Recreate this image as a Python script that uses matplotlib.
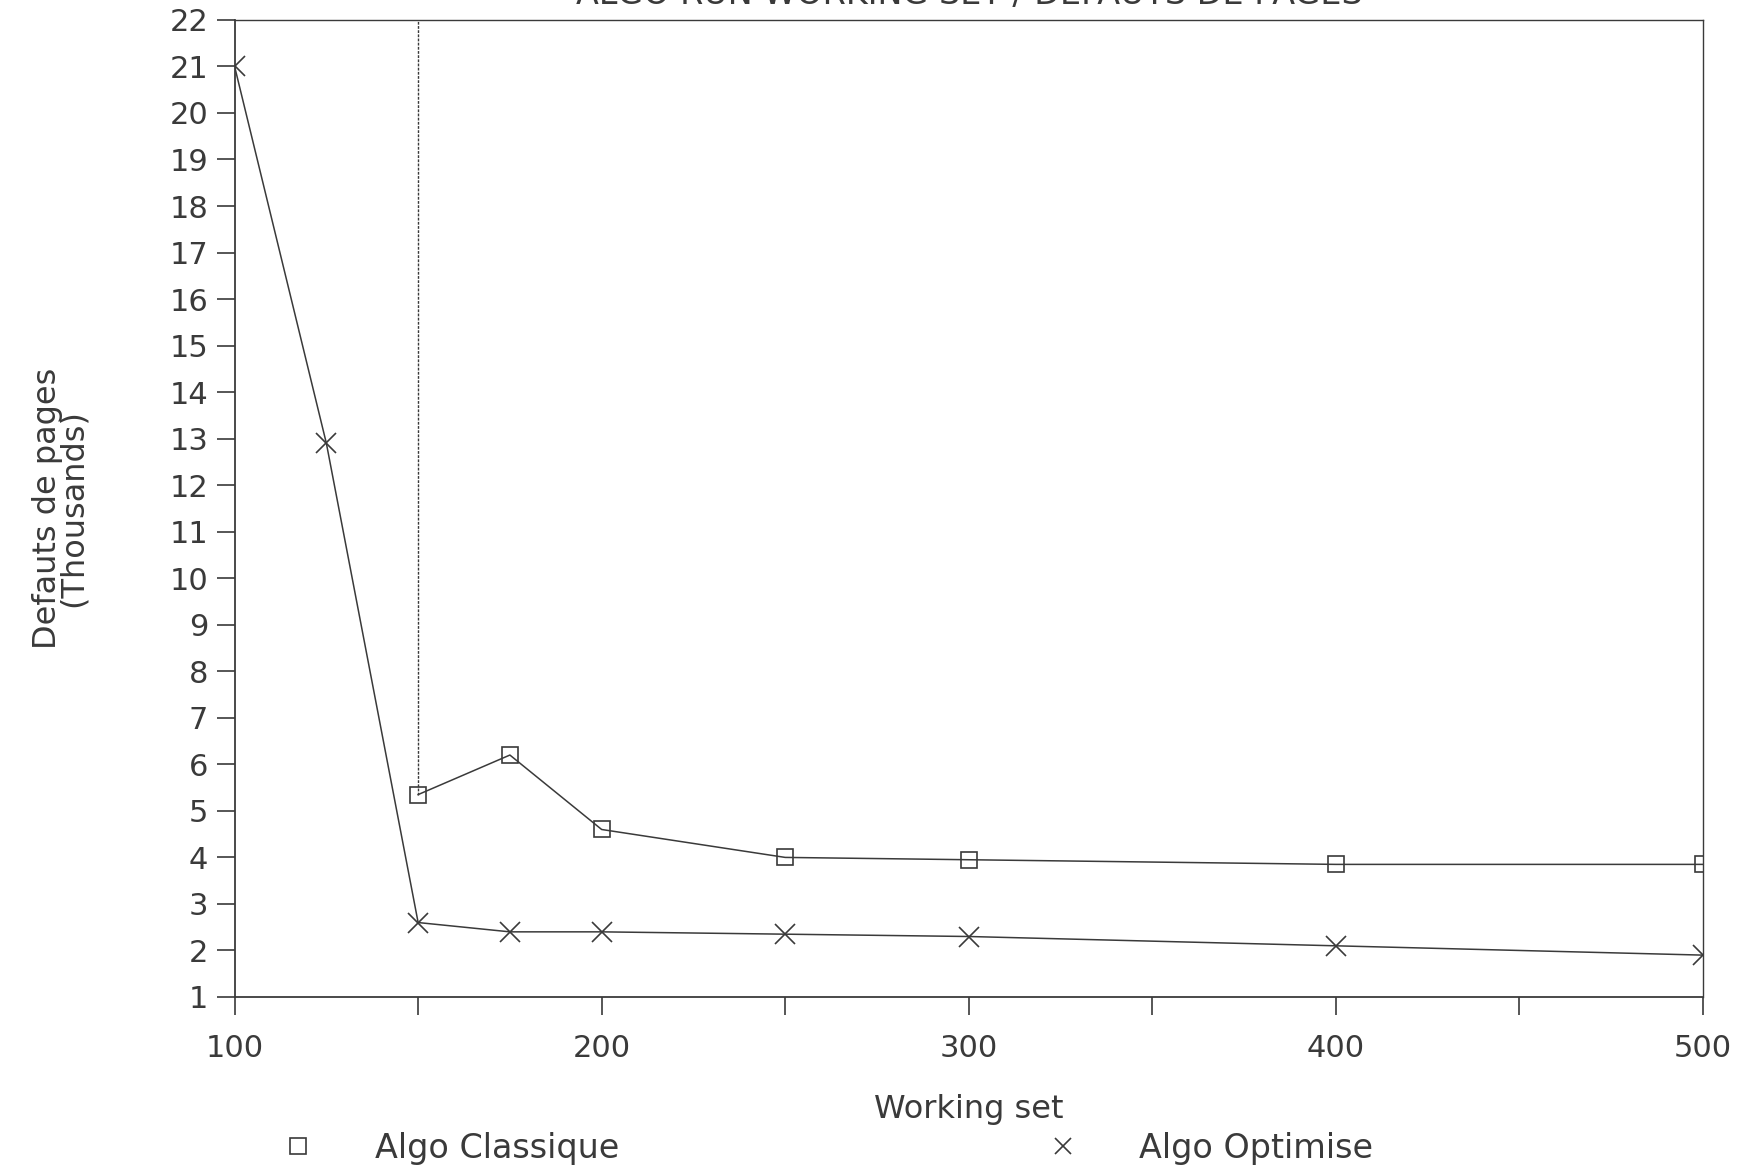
import matplotlib
matplotlib.use("Agg")
import matplotlib.pyplot as plt
from matplotlib.lines import Line2D

# working set sizes
working_set = [100, 125, 150, 175, 200, 250, 300, 400, 500]
# page faults (thousands), classic algorithm: first two values are off the scale
classique = [None, None, 5.35, 6.2, 4.6, 4.0, 3.95, 3.85, 3.85]
# page faults (thousands), optimised algorithm
optimise = [21.0, 12.9, 2.6, 2.4, 2.4, 2.35, 2.3, 2.1, 1.9]

x_ticks = [100, 150, 200, 250, 300, 350, 400, 450, 500]
x_labels = ["100", "", "200", "", "300", "", "400", "", "500"]
y_ticks = list(range(1, 23))

ink = "#3a3a3a"
plt.rcParams["font.family"] = ["DejaVu Sans"]

fig = plt.figure(figsize=(17.6, 11.71), dpi=100)
ax = fig.add_axes([0.1333, 0.1486, 0.8342, 0.8344])

# classic series (only the points on scale)
xc = [x for x, v in zip(working_set, classique) if v is not None]
yc = [v for v in classique if v is not None]
ax.plot(xc, yc, color=ink, lw=1.1, marker="s", markersize=12,
        markerfacecolor="none", markeredgecolor=ink, markeredgewidth=1.2)
# off-scale values drawn as a vertical line up to the top
ax.vlines(xc[0], yc[0], 22, color=ink, lw=1.0, linestyles=(0, (2, 1)))

ax.plot(working_set, optimise, color=ink, lw=1.1, marker="x", markersize=14,
        markeredgecolor=ink, markeredgewidth=1.2)

ax.set_xlim(100, 500)
ax.set_ylim(1, 22)
ax.set_xticks(x_ticks)
ax.set_xticklabels(x_labels)
ax.set_yticks(y_ticks)
ax.tick_params(axis="both", direction="out", length=13, width=1.2,
               colors=ink, labelsize=22, pad=6)
ax.tick_params(axis="x", pad=14)

for side in ["left", "bottom"]:
    ax.spines[side].set_color(ink)
    ax.spines[side].set_linewidth(1.3)
for side in ["top", "right"]:
    ax.spines[side].set_color(ink)
    ax.spines[side].set_linewidth(1.0)
    ax.spines[side].set_linestyle((0, (2, 1)))

ax.set_xlabel("Working set", fontsize=23, color=ink, labelpad=22)
ax.set_ylabel("Defauts de pages\n(Thousands)", fontsize=23, color=ink,
              labelpad=58, linespacing=0.8)

# title is cut off at the top of the page, as in the original
fig.text(0.5505, 1 - 4 / 1171, "ALGO RUN WORKING SET / DEFAUTS DE PAGES",
         ha="center", va="baseline", fontsize=24, color=ink)

handles = [
    Line2D([], [], ls="none", marker="s", markersize=11, markerfacecolor="none",
           markeredgecolor=ink, markeredgewidth=1.2),
    Line2D([], [], ls="none", marker="x", markersize=11, markeredgecolor=ink,
           markeredgewidth=1.2),
]
fig.legend(handles, ["Algo Classique", "Algo Optimise"], ncol=2,
           loc="center left", bbox_to_anchor=(0.143, 0.0195), frameon=False,
           fontsize=24, labelcolor=ink, handletextpad=1.8, columnspacing=12.8,
           handlelength=1.0)

fig.savefig("out.png", dpi=100)
